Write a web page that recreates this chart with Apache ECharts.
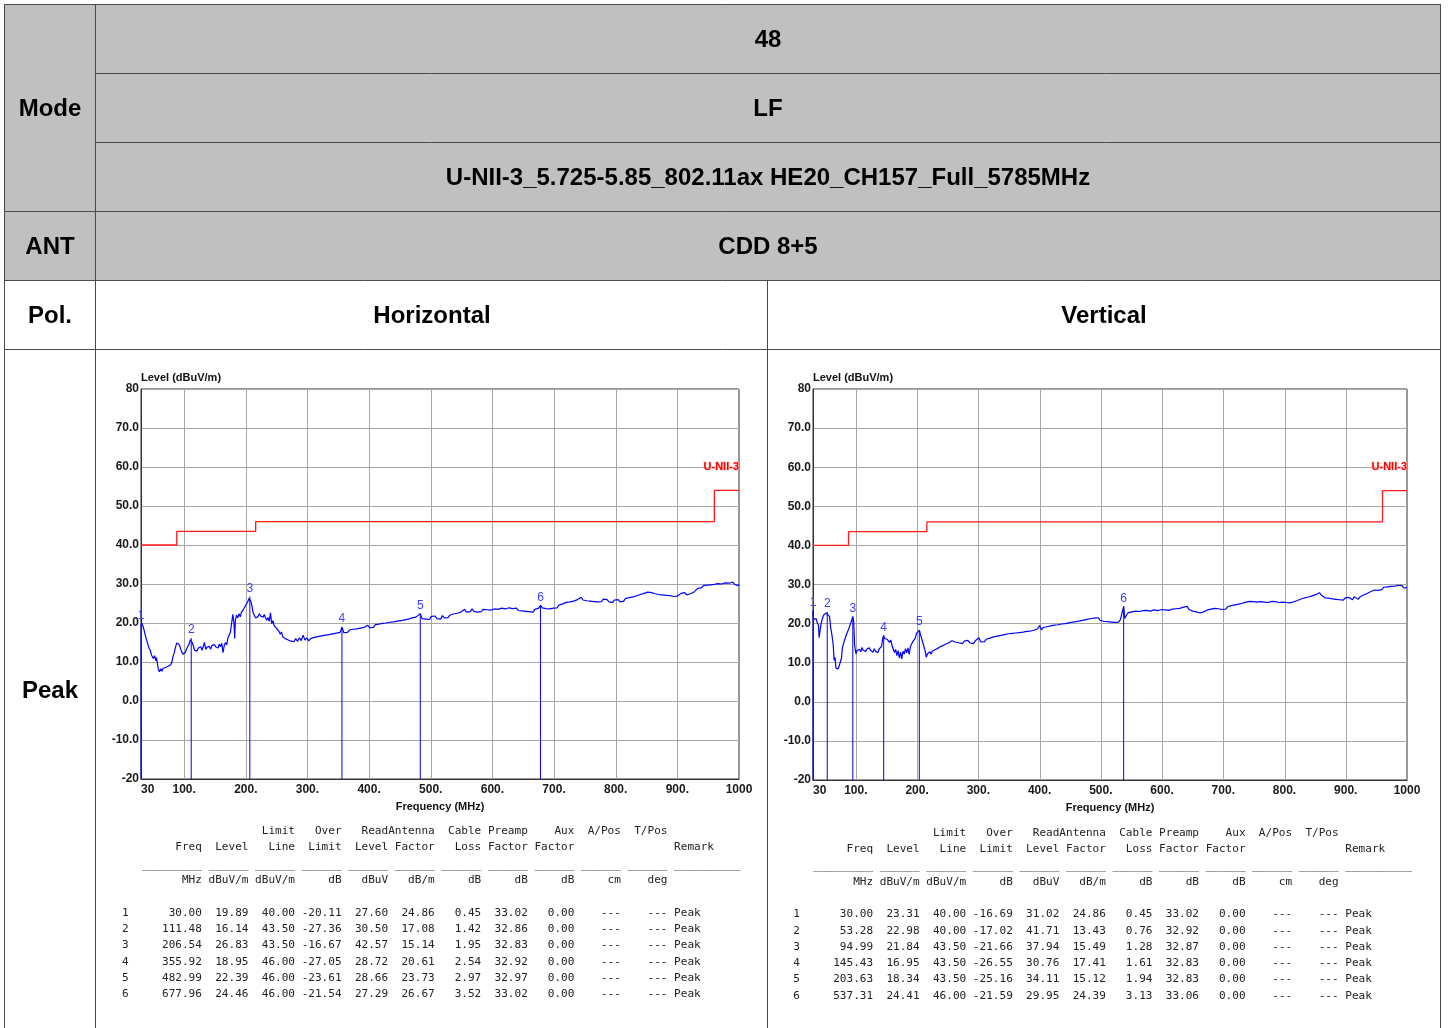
<!DOCTYPE html>
<html><head><meta charset="utf-8">
<script src="https://cdn.jsdelivr.net/npm/echarts@6/dist/echarts.min.js"></script>
<style>html,body{margin:0;padding:0;background:#fff}#c{width:1448px;height:1028px}</style>
</head><body><div id="c"></div>
<script>
// ---------- data ----------
const xTickValues = [30,100,200,300,400,500,600,700,800,900,1000];
const xTickLabels = ['30','100.','200.','300.','400.','500.','600.','700.','800.','900.','1000'];
const xGridValues = [100,200,300,400,500,600,700,800,900];
const yTickValues = [-20,-10,0,10,20,30,40,50,60,70,80];
const yTickLabels = ['-20','-10.0','0.0','10.0','20.0','30.0','40.0','50.0','60.0','70.0','80'];

const limitFreq  = [30, 88, 88, 216, 216, 960, 960, 1000];
const limitLevel = [40, 40, 43.5, 43.5, 46, 46, 54, 54];
const limitName = 'U-NII-3';

const hTrace = [[30,23.0],[31,20.0],[33,19.3],[35,18.2],[37,16.8],[39,16.3],[41,14.6],[43,13.6],[45,13.0],[47,11.8],[49,12.1],[50,10.9],[52,11.6],[54,10.3],[55,11.1],[57,9.3],[58,8.2],[60,7.5],[62,8.3],[64,7.6],[66,8.4],[68,7.9],[70,8.6],[72,8.1],[74,8.9],[76,8.5],[78,9.3],[80,9.9],[82,11.5],[84,12.4],[86,13.8],[88,14.9],[90,15.4],[92,14.5],[94,13.5],[96,12.6],[98,12.0],[100,11.7],[102,12.5],[104,13.4],[106,13.9],[108,14.6],[110,15.7],[111.5,16.1],[113,15.0],[115,14.1],[117,13.0],[119,13.5],[121,12.8],[123,13.6],[125,13.2],[127,13.9],[129,13.0],[131,13.4],[133,15.0],[135,13.2],[137,13.8],[139,13.4],[141,14.0],[143,13.3],[145,14.2],[147,13.7],[149,14.5],[151,13.9],[153,14.4],[155,13.6],[157,14.6],[159,13.9],[161,14.8],[163,12.4],[165,14.2],[167,15.0],[169,14.4],[171,16.2],[173,15.7],[175,17.6],[177,20.0],[179,22.2],[181,19.6],[182,16.0],[183,20.6],[185,22.0],[187,21.3],[189,22.4],[191,21.6],[193,22.8],[195,22.5],[197,23.7],[199,24.3],[201,24.0],[203,25.4],[205,26.3],[206.5,26.8],[208,25.6],[210,24.3],[212,22.6],[214,21.9],[216,21.3],[218,20.9],[220,21.7],[222,22.4],[224,21.8],[226,22.3],[228,21.5],[230,22.2],[232,21.3],[234,20.7],[236,21.4],[238,20.4],[240,22.6],[242,19.8],[244,20.6],[246,19.3],[248,19.8],[250,18.6],[252,19.1],[254,17.8],[256,17.1],[258,17.7],[260,16.4],[262,16.8],[264,16.0],[266,16.5],[268,15.7],[270,16.2],[272,15.4],[275,15.9],[278,15.2],[281,16.0],[284,15.3],[287,16.2],[290,15.5],[293,16.9],[296,15.6],[299,16.2],[302,15.4],[305,16.0],[308,15.6],[311,16.3],[314,15.8],[317,16.5],[320,16.0],[323,16.7],[326,16.3],[329,16.9],[332,16.4],[335,17.0],[338,16.6],[341,17.2],[344,16.8],[347,17.4],[350,17.0],[353,17.6],[356,18.9],[359,17.5],[362,18.0],[365,17.6],[368,18.2],[371,17.8],[374,18.4],[377,17.9],[380,18.5],[383,18.1],[386,18.7],[389,18.2],[392,18.9],[395,18.5],[398,19.4],[401,18.8],[404,19.3],[407,18.9],[410,19.6],[413,19.1],[416,19.7],[419,19.3],[422,19.9],[425,19.4],[428,20.0],[431,19.6],[434,20.2],[437,19.7],[440,20.3],[443,19.9],[446,20.5],[449,20.0],[452,20.6],[455,20.2],[458,20.8],[461,20.4],[464,21.0],[467,20.6],[470,21.3],[473,20.8],[476,21.5],[479,21.0],[483,22.4],[486,21.1],[489,21.6],[492,21.0],[495,21.5],[498,20.9],[501,21.7],[504,21.2],[507,21.8],[510,21.1],[513,21.6],[516,21.0],[519,21.9],[522,21.3],[525,21.8],[528,21.4],[531,22.0],[534,21.6],[537,22.3],[540,21.8],[543,22.5],[546,22.0],[549,22.8],[552,22.4],[555,23.5],[558,22.8],[561,23.3],[564,22.9],[567,23.6],[570,23.0],[573,23.4],[576,22.8],[579,23.2],[582,22.9],[585,23.5],[588,23.0],[591,23.4],[594,22.9],[597,23.3],[600,23.0],[603,23.6],[606,23.1],[609,23.5],[612,23.2],[615,23.8],[618,23.3],[621,23.6],[624,23.2],[627,23.9],[630,23.4],[633,23.7],[636,23.3],[639,23.8],[642,23.2],[645,23.6],[648,23.1],[651,23.5],[654,23.0],[657,23.4],[660,22.9],[663,23.3],[666,22.8],[669,23.5],[672,23.1],[675,23.8],[678,24.5],[681,23.9],[684,24.3],[687,23.7],[690,24.1],[693,23.6],[696,24.0],[699,23.8],[702,24.3],[705,23.9],[708,24.6],[711,24.2],[714,24.9],[717,24.5],[720,25.3],[723,24.8],[726,25.4],[729,25.0],[732,25.6],[735,25.2],[738,26.0],[741,25.8],[744,26.6],[747,25.9],[750,26.4],[753,25.7],[756,26.2],[759,25.6],[762,26.1],[765,25.5],[768,26.0],[771,25.4],[774,25.9],[777,25.5],[780,26.1],[783,25.6],[786,26.0],[789,25.4],[792,25.8],[795,25.3],[798,25.9],[801,25.5],[804,26.0],[807,25.4],[810,25.9],[813,25.6],[816,26.3],[819,25.8],[822,26.5],[825,26.0],[828,26.7],[831,26.3],[834,27.0],[837,26.6],[840,27.3],[843,26.9],[846,27.6],[849,27.2],[852,27.9],[855,28.4],[858,27.8],[861,28.1],[864,27.5],[867,27.9],[870,27.3],[873,27.6],[876,27.2],[879,27.5],[882,27.1],[885,27.4],[888,27.0],[891,27.3],[894,26.8],[897,27.1],[900,26.9],[903,27.2],[906,27.6],[909,27.1],[912,27.8],[915,27.2],[918,26.9],[921,27.5],[924,27.3],[927,27.9],[930,28.3],[933,28.9],[936,29.3],[939,29.0],[942,29.6],[945,29.2],[948,29.7],[951,29.3],[954,29.8],[957,29.4],[960,29.9],[963,29.5],[966,30.1],[969,29.6],[972,30.0],[975,29.7],[978,30.3],[981,29.8],[984,30.2],[987,29.7],[990,30.5],[993,29.9],[996,30.3],[999,29.6],[1000,29.9]];

const vTrace = [[30,23.3],[31,21.0],[33,20.6],[35,21.3],[37,20.2],[39,19.5],[40,16.4],[41.5,15.9],[43,19.8],[44.5,20.8],[46,21.6],[48,22.3],[50,22.0],[52,22.7],[53.3,23.0],[55,22.4],[57,21.8],[59,18.9],[61,17.0],[63,14.6],[64.5,10.6],[66,11.4],[67.5,8.6],[69,8.9],[71,8.4],[73,9.3],[75,9.0],[76.5,11.2],[78,13.8],[80,15.0],[82,16.0],[84,16.9],[86,17.8],[88,18.5],[90,19.4],[92,20.3],[93.5,19.8],[95,21.8],[96.5,20.4],[98,14.5],[100,12.3],[102,13.1],[104,12.6],[106,13.4],[108,12.8],[110,13.9],[112,13.2],[114,13.6],[116,12.9],[118,13.5],[120,13.0],[122,13.8],[124,13.1],[126,13.4],[128,12.7],[130,13.6],[132,12.9],[134,13.3],[136,12.6],[138,13.5],[140,13.0],[142,14.2],[144,16.3],[145.4,16.9],[147,16.2],[149,16.7],[151,16.0],[153,16.4],[155,15.2],[157,15.8],[159,14.4],[161,14.0],[163,12.6],[165,13.4],[167,11.8],[169,13.1],[171,11.2],[173,12.7],[175,11.0],[177,12.9],[179,12.2],[181,13.6],[183,12.5],[185,13.8],[187,12.1],[189,14.1],[191,14.6],[193,15.4],[195,15.9],[197,16.3],[199,17.5],[201,17.9],[203.6,18.3],[205,17.5],[207,18.0],[209,15.3],[211,14.2],[213,13.1],[215,11.4],[217,12.3],[219,11.9],[221,12.8],[223,12.2],[225,13.0],[227,12.5],[229,13.3],[231,12.8],[233,13.6],[235,13.2],[237,14.0],[239,13.5],[241,14.3],[243,13.9],[245,14.6],[247,14.2],[249,14.9],[251,14.5],[253,15.2],[255,14.8],[257,15.6],[259,15.9],[262,15.3],[265,15.8],[268,15.1],[271,15.6],[274,14.9],[277,15.5],[280,15.0],[283,15.7],[286,15.1],[289,15.4],[292,14.9],[295,15.6],[298,15.2],[301,16.4],[304,15.3],[307,15.8],[310,15.4],[313,16.0],[316,15.6],[319,16.3],[322,15.9],[325,16.6],[328,16.1],[331,16.8],[334,16.3],[337,17.0],[340,16.6],[343,17.2],[346,16.8],[349,17.4],[352,16.9],[355,17.5],[358,17.1],[361,17.6],[364,17.2],[367,17.7],[370,17.3],[373,17.8],[376,17.4],[379,18.0],[382,17.6],[385,18.1],[388,17.7],[391,18.3],[394,18.0],[397,18.7],[400,19.5],[403,18.4],[406,19.0],[409,18.6],[412,19.2],[415,18.8],[418,19.4],[421,19.0],[424,19.6],[427,19.1],[430,19.7],[433,19.3],[436,19.9],[439,19.5],[442,20.0],[445,19.6],[448,20.2],[451,19.8],[454,20.4],[457,20.0],[460,20.5],[463,20.1],[466,20.7],[469,20.3],[472,20.9],[475,20.5],[478,21.1],[481,20.7],[484,21.3],[487,20.8],[490,21.4],[493,20.9],[496,21.5],[499,20.8],[502,21.2],[505,20.6],[508,21.1],[511,20.5],[514,21.0],[517,20.4],[520,20.9],[523,20.3],[526,20.8],[529,20.4],[532,21.0],[535,20.6],[537.3,24.4],[539,21.3],[542,22.2],[545,22.8],[548,22.4],[551,23.0],[554,22.6],[557,23.2],[560,22.7],[563,23.1],[566,22.6],[569,23.3],[572,22.8],[575,23.4],[578,22.9],[581,23.2],[584,22.7],[587,23.5],[590,23.0],[593,23.3],[596,22.8],[599,23.6],[602,23.1],[605,23.5],[608,23.0],[611,23.4],[614,22.9],[617,23.7],[620,23.3],[623,23.8],[626,23.4],[629,23.9],[632,23.5],[635,24.2],[638,23.7],[641,24.4],[644,23.6],[647,23.9],[650,23.2],[653,23.6],[656,23.0],[659,23.4],[662,22.7],[665,22.4],[668,23.0],[671,22.8],[674,23.5],[677,23.1],[680,23.7],[683,23.3],[686,23.9],[689,23.4],[692,23.8],[695,23.3],[698,23.6],[701,24.0],[704,23.7],[707,24.3],[710,24.0],[713,24.6],[716,24.2],[719,24.8],[722,24.4],[725,25.0],[728,24.6],[731,25.2],[734,24.9],[737,25.5],[740,25.1],[743,25.7],[746,25.3],[749,25.6],[752,25.2],[755,25.5],[758,25.1],[761,25.6],[764,25.2],[767,25.5],[770,25.0],[773,25.4],[776,25.1],[779,25.7],[782,25.2],[785,25.6],[788,25.1],[791,25.4],[794,25.0],[797,25.5],[800,25.1],[803,25.4],[806,24.9],[809,25.3],[812,25.0],[815,25.6],[818,25.3],[821,25.9],[824,25.6],[827,26.3],[830,26.0],[833,26.6],[836,26.2],[839,26.8],[842,26.5],[845,27.1],[848,26.8],[851,27.4],[854,27.0],[857,27.9],[860,27.3],[863,27.0],[866,26.6],[869,26.9],[872,26.5],[875,26.8],[878,26.3],[881,26.7],[884,26.2],[887,26.6],[890,26.1],[893,26.5],[896,26.0],[899,26.6],[902,26.2],[905,26.7],[908,26.3],[911,26.1],[914,26.9],[917,26.4],[920,26.2],[923,26.8],[926,26.5],[929,27.3],[932,27.0],[935,27.7],[938,27.5],[941,28.2],[944,28.0],[947,28.6],[950,28.9],[953,28.5],[956,29.0],[959,28.7],[962,29.3],[965,28.9],[968,29.4],[971,29.0],[974,29.5],[977,29.1],[980,29.6],[983,29.2],[986,29.8],[989,29.3],[992,29.7],[995,29.1],[998,29.6],[1000,29.2]];

const hMarkerFreq  = [30.00, 111.48, 206.54, 355.92, 482.99, 677.96];
const hMarkerLevel = [19.89, 16.14, 26.83, 18.95, 22.39, 24.46];
const vMarkerFreq  = [30.00, 53.28, 94.99, 145.43, 203.63, 537.31];
const vMarkerLevel = [23.31, 22.98, 21.84, 16.95, 18.34, 24.41];

const hRows = [
 ['1','30.00','19.89','40.00','-20.11','27.60','24.86','0.45','33.02','0.00','---','---','Peak'],
 ['2','111.48','16.14','43.50','-27.36','30.50','17.08','1.42','32.86','0.00','---','---','Peak'],
 ['3','206.54','26.83','43.50','-16.67','42.57','15.14','1.95','32.83','0.00','---','---','Peak'],
 ['4','355.92','18.95','46.00','-27.05','28.72','20.61','2.54','32.92','0.00','---','---','Peak'],
 ['5','482.99','22.39','46.00','-23.61','28.66','23.73','2.97','32.97','0.00','---','---','Peak'],
 ['6','677.96','24.46','46.00','-21.54','27.29','26.67','3.52','33.02','0.00','---','---','Peak']
];
const vRows = [
 ['1','30.00','23.31','40.00','-16.69','31.02','24.86','0.45','33.02','0.00','---','---','Peak'],
 ['2','53.28','22.98','40.00','-17.02','41.71','13.43','0.76','32.92','0.00','---','---','Peak'],
 ['3','94.99','21.84','43.50','-21.66','37.94','15.49','1.28','32.87','0.00','---','---','Peak'],
 ['4','145.43','16.95','43.50','-26.55','30.76','17.41','1.61','32.83','0.00','---','---','Peak'],
 ['5','203.63','18.34','43.50','-25.16','34.11','15.12','1.94','32.83','0.00','---','---','Peak'],
 ['6','537.31','24.41','46.00','-21.59','29.95','24.39','3.13','33.06','0.00','---','---','Peak']
];
const head1 = ['','','Limit','Over','ReadAntenna','Cable','Preamp','Aux','A/Pos','T/Pos'];
const head2 = ['Freq','Level','Line','Limit','Level','Factor','Loss','Factor','Factor','','','Remark'];
const units = ['MHz','dBuV/m','dBuV/m','dB','dBuV','dB/m','dB','dB','dB','cm','deg'];

const headerTexts = {mode:'Mode', r1:'48', r2:'LF', r3:'U-NII-3_5.725-5.85_802.11ax HE20_CH157_Full_5785MHz',
  ant:'ANT', antVal:'CDD 8+5', pol:'Pol.', h:'Horizontal', v:'Vertical', peak:'Peak'};

// ---------- helpers ----------
function padL(s,n){s=String(s);while(s.length<n)s=' '+s;return s;}
function padR(s,n){s=String(s);while(s.length<n)s=s+' ';return s;}
function rowLine(r){let s=padR(r[0],5);for(let i=1;i<12;i++)s+=padL(r[i],7);return s+' '+r[12];}
function head1Line(){return '     '+padL(head1[0],7)+padL(head1[1],7)+padL(head1[2],7)+padL(head1[3],7)+padL(head1[4],14)+padL(head1[5],7)+padL(head1[6],7)+padL(head1[7],7)+padL(head1[8],7)+padL(head1[9],7);}
function head2Line(){let s='     ';for(let i=0;i<11;i++)s+=padL(head2[i],7);return s+' '+head2[11];}
function underLine(){let s='   '+'_'.repeat(9);for(let i=0;i<10;i++)s+=' '+'_'.repeat(6);return s+' '+'_'.repeat(10);}
function unitsLine(){let s='     ';for(let i=0;i<units.length;i++)s+=padL(units[i],7);return s;}

const chart = echarts.init(document.getElementById('c'), null, {renderer:'canvas'});

const B = '"Liberation Sans", Arial, sans-serif';
const MONO = '"DejaVu Sans Mono", monospace';
const grids = [
  {left:141, top:389, width:598, height:390},
  {left:813, top:389, width:594, height:391}
];

function xAxisCfg(i){
  return {type:'value', gridIndex:i, min:30, max:1000,
    name:'Frequency (MHz)', nameLocation:'middle', nameGap:22,
    nameTextStyle:{fontFamily:B, fontWeight:'bold', fontSize:11, color:'#111'},
    axisLine:{show:true, onZero:false, lineStyle:{color:'#333', width:1}}, axisTick:{show:false}, splitLine:{show:false},
    axisLabel:{customValues:xTickValues, margin:5, fontFamily:B, fontWeight:'bold', fontSize:12, color:'#1a1a1a',
      alignMinLabel:'left', formatter:v=>{const k=xTickValues.indexOf(v);return k>=0?xTickLabels[k]:'';}}};
}
function yAxisCfg(i){
  return {type:'value', gridIndex:i, min:-20, max:80, interval:10,
    name:'Level (dBuV/m)', nameLocation:'end', nameGap:9,
    nameTextStyle:{fontFamily:B, fontWeight:'bold', fontSize:11, color:'#111', align:'left', verticalAlign:'middle'},
    axisLine:{show:true, onZero:false, lineStyle:{color:'#333', width:1}}, axisTick:{show:false},
    splitLine:{show:true, lineStyle:{color:'#a6a6a6', width:1}},
    axisLabel:{margin:2, fontFamily:B, fontWeight:'bold', fontSize:12, color:'#1a1a1a',
      formatter:v=>{const k=yTickValues.indexOf(v);return k>=0?yTickLabels[k]:'';}}};
}
function gridLineSeries(i){
  return {type:'custom', xAxisIndex:i, yAxisIndex:i, z:1, silent:true, animation:false,
    data:xGridValues.map(v=>[v]),
    renderItem:(p,api)=>{const a=api.coord([api.value(0),80]);const b=api.coord([api.value(0),-20]);
      return {type:'line', shape:{x1:Math.round(a[0])+0.5,y1:a[1],x2:Math.round(a[0])+0.5,y2:b[1]}, style:{stroke:'#a6a6a6', lineWidth:1}};}};
}
function traceSeries(i, data){
  return {type:'line', xAxisIndex:i, yAxisIndex:i, z:3, data:data, showSymbol:false, symbol:'none',
    lineStyle:{color:'#0000ff', width:1.2}, animation:false, silent:true};
}
function limitSeries(i){
  return {type:'line', xAxisIndex:i, yAxisIndex:i, z:4, data:limitFreq.map((f,k)=>[f,limitLevel[k]]),
    showSymbol:false, symbol:'none', lineStyle:{color:'#ff1a1a', width:1.3}, animation:false, silent:true,
    markPoint:{symbol:'circle', symbolSize:0, silent:true, animation:false,
      label:{show:true, position:'left', distance:0, formatter:limitName, color:'#ff0000', fontFamily:B, fontWeight:'bold', fontSize:11,
        textBorderColor:'#ffd0d0', textBorderWidth:1},
      data:[{coord:[1000,60]}]}};
}
// marker stems: one line series with gaps between markers
function markerStemSeries(i, fr, lv){
  const d = [];
  fr.forEach((f,k)=>{ d.push([f, lv[k]]); d.push([f, -20]); d.push(['-','-']); });
  return {type:'line', xAxisIndex:i, yAxisIndex:i, z:5, data:d, connectNulls:false, showSymbol:false, symbol:'none',
    lineStyle:{color:'#0000ff', width:1}, animation:false, silent:true};
}
function markerLabelSeries(i, fr, lv){
  return {type:'custom', xAxisIndex:i, yAxisIndex:i, z:6, silent:true, animation:false, clip:false,
    data:fr.map((f,k)=>[f, lv[k], k+1]),
    renderItem:(p,api)=>{const t=api.coord([api.value(0),api.value(1)]);
      return {type:'text', style:{text:String(api.value(2)), x:t[0], y:t[1]-2, align:'center', verticalAlign:'bottom', fill:'#3d3dff', font:'12px '+B}};}};
}

// ---------- table graphics ----------
const g = [];
const GRAY = '#c0c0c0', LINE = '#4a4a4a';
function rect(x,y,w,h,fill){g.push({type:'rect', shape:{x,y,width:w,height:h}, style:{fill}, silent:true, z:0});}
function hl(y,x1,x2){g.push({type:'line', shape:{x1,y1:y+0.5,x2,y2:y+0.5}, style:{stroke:LINE, lineWidth:1}, silent:true, z:2});}
function vl(x,y1,y2){g.push({type:'line', shape:{x1:x+0.5,y1,x2:x+0.5,y2}, style:{stroke:LINE, lineWidth:1}, silent:true, z:2});}
function txt(t,x,y){g.push({type:'text', style:{text:t, x, y, align:'center', verticalAlign:'middle', font:'bold 24px '+B, fill:'#000'}, silent:true, z:3});}
rect(4,4,1436,276,GRAY);
hl(4,4,1441); hl(73,95,1441); hl(142,95,1441); hl(211,4,1441); hl(280,4,1441); hl(349,4,1441);
vl(4,4,1028); vl(95,4,1028); vl(767,280,1028); vl(1440,4,1028);
txt(headerTexts.mode,50,109.5); txt(headerTexts.r1,768,40); txt(headerTexts.r2,768,109); txt(headerTexts.r3,768,178);
txt(headerTexts.ant,50,247); txt(headerTexts.antVal,768,247); txt(headerTexts.pol,50,316);
txt(headerTexts.h,432,316); txt(headerTexts.v,1104,316); txt(headerTexts.peak,50,691);

function mono(t,x,y){g.push({type:'text', style:{text:t, x, y, align:'left', verticalAlign:'middle', font:'11.05px '+MONO, fill:'#222'}, silent:true, z:3});}
function dataTable(rows,x0,dy){
  mono(head1Line(),x0,831.5+dy); mono(head2Line(),x0,847.5+dy); mono(underLine(),x0,865+dy); mono(unitsLine(),x0,880.5+dy);
  rows.forEach((r,k)=>mono(rowLine(r),x0,913+k*16.25+dy));
}
dataTable(hRows,122.1,0);
dataTable(vRows,793.3,1.5);

chart.setOption({
  animation:false,
  backgroundColor:'#fff',
  grid:grids.map(o=>Object.assign({show:true, borderColor:'#333', borderWidth:1, backgroundColor:'#fff', containLabel:false}, o)),
  xAxis:[xAxisCfg(0), xAxisCfg(1)],
  yAxis:[yAxisCfg(0), yAxisCfg(1)],
  series:[gridLineSeries(0), gridLineSeries(1), traceSeries(0,hTrace), traceSeries(1,vTrace),
    limitSeries(0), limitSeries(1),
    markerStemSeries(0,hMarkerFreq,hMarkerLevel), markerStemSeries(1,vMarkerFreq,vMarkerLevel),
    markerLabelSeries(0,hMarkerFreq,hMarkerLevel), markerLabelSeries(1,vMarkerFreq,vMarkerLevel)],
  graphic:g
});
</script></body></html>
